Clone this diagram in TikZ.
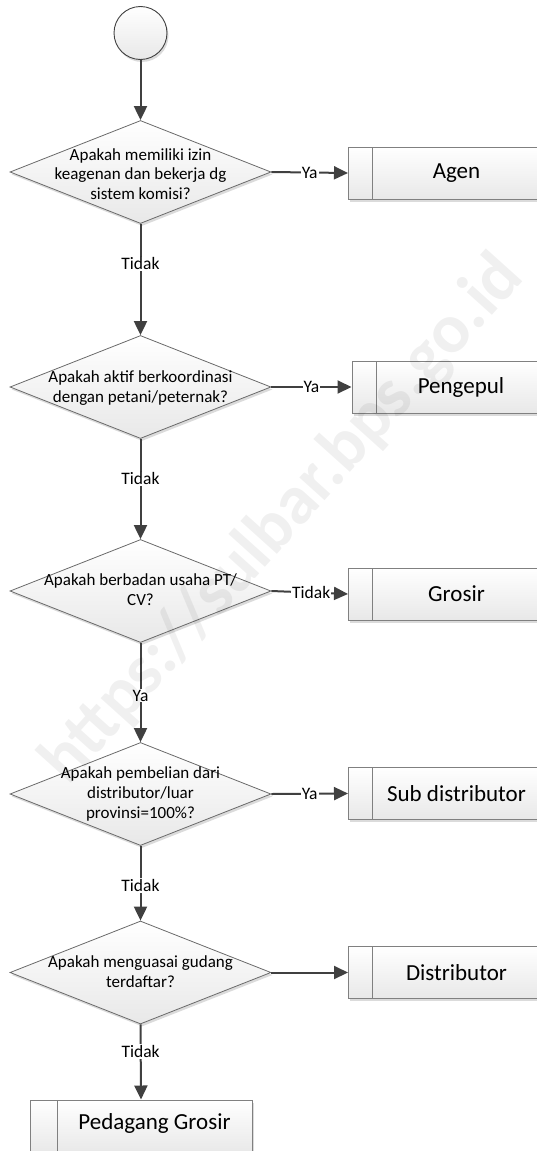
\documentclass[tikz,border=0pt]{standalone}
\usepackage{fontspec}
\setmainfont{Carlito}
\usetikzlibrary{shapes.geometric,arrows.meta,shadows}
\definecolor{linec}{HTML}{404040}
\definecolor{bordc}{HTML}{808080}
\definecolor{dbord}{HTML}{6A6A6A}
\begin{document}
\begin{tikzpicture}[x=1pt,y=-1pt,
  shapefill/.style={top color=white,bottom color=black!9},
  sh/.style={drop shadow={shadow xshift=1.5pt,shadow yshift=-2.5pt,fill=black!14,opacity=1}},
  startc/.style={circle,draw=linec,line width=0.9pt,shapefill,sh,minimum size=53pt,inner sep=0pt},
  dec/.style={diamond,draw=dbord,line width=0.8pt,shapefill,sh,minimum width=261pt,minimum height=103pt,inner sep=0pt},
  dtxt/.style={align=center,font=\fontsize{17}{19.8}\selectfont,inner sep=0pt},
  proc/.style={rectangle,draw=bordc,line width=1pt,shapefill,sh,minimum height=52pt,inner sep=0pt,
    path picture={\draw[bordc,line width=1pt] ([xshift=#1]path picture bounding box.north west) -- ([xshift=#1]path picture bounding box.south west);}},
  proc/.default=24pt,
  ptxt/.style={font=\fontsize{23}{27}\selectfont,inner sep=0pt},
  conn/.style={draw=linec,line width=2pt,-{Triangle[length=14pt,width=13pt]}},
  lbl/.style={fill=white,inner sep=1pt,font=\fontsize{17.5}{20}\selectfont,text=black}
]
\useasboundingbox (0,0) rectangle (537,1151);

% start
\node[startc] (s) at (140.5,33) {};

% decisions
\node[dec] (d1) at (140.5,172) {};
\node[dtxt] (t1) at (140.5,174) {Apakah memiliki izin\\keagenan dan bekerja dg\\sistem komisi?};
\node[dec] (d2) at (140.5,387) {};
\node[dtxt] (t2) at (140.5,388) {Apakah aktif berkoordinasi\\dengan petani/peternak?};
\node[dec] (d3) at (140.5,591) {};
\node[dtxt] (t3) at (140.5,590) {Apakah berbadan usaha PT/\\CV?};
\node[dec] (d4) at (140.5,794) {};
\node[dtxt] (t4) at (140.5,794) {Apakah pembelian dari\\distributor/luar\\provinsi=100\%?};
\node[dec] (d5) at (140.5,972.5) {};
\node[dtxt] (t5) at (140.5,972) {Apakah menguasai gudang\\terdaftar?};

% processes
\node[proc,minimum width=192pt] (agen) at (444.5,173) {};
\node[ptxt] (agent) at ([xshift=12pt]agen.center) {Agen};
\node[proc,minimum width=194pt] (peng) at (449,387) {};
\node[ptxt] (pengt) at ([xshift=12pt]peng.center) {Pengepul};
\node[proc,minimum width=192pt] (gro) at (444.5,594) {};
\node[ptxt] (grot) at ([xshift=12pt]gro.center) {Grosir};
\node[proc,minimum width=192pt] (sub) at (444.5,793.5) {};
\node[ptxt] (subt) at ([xshift=12pt]sub.center) {Sub distributor};
\node[proc,minimum width=192pt] (dis) at (444.5,972.5) {};
\node[ptxt] (dist) at ([xshift=12pt]dis.center) {Distributor};
\node[proc=27pt,minimum width=222pt,minimum height=53pt] (ped) at (141,1126.5) {};
\node[ptxt] (pedt) at ([xshift=13.5pt,yshift=3pt]ped.center) {Pedagang Grosir};

% connectors
\draw[conn] (s.south) -- (d1.north);
\draw[conn] (d1.east) -- node[lbl] {Ya} (agen.west);
\draw[conn] (d1.south) -- node[lbl,pos=0.36] {Tidak} (d2.north);
\draw[conn] (d2.east) -- node[lbl] {Ya} (peng.west);
\draw[conn] (d2.south) -- node[lbl,pos=0.4] {Tidak} (d3.north);
\draw[conn] (d3.east) -- node[lbl,pos=0.52] {Tidak} (gro.west);
\draw[conn] (d3.south) -- node[lbl,pos=0.53] {Ya} (d4.north);
\draw[conn] (d4.east) -- node[lbl] {Ya} (sub.west);
\draw[conn] (d4.south) -- node[lbl,pos=0.53] {Tidak} (d5.north);
\draw[conn] (d5.east) -- (dis.west);
\draw[conn] (d5.south) -- node[lbl,pos=0.36] {Tidak} (ped.north);

% watermark
\node[rotate=48,font=\fontsize{70}{74}\selectfont\bfseries,text=black,text opacity=0.06,inner sep=0pt] (wm) at (283,520) {https://sulbar.bps.go.id};
\end{tikzpicture}
\end{document}
